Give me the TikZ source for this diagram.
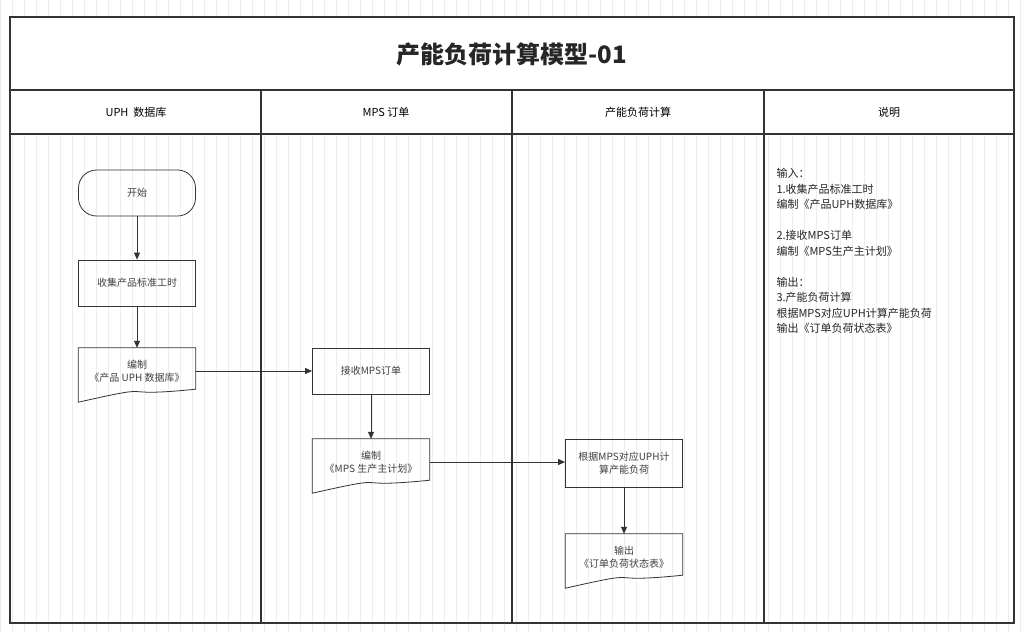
\documentclass[tikz,border=0pt]{standalone}
\usepackage{fontspec}
\setmainfont{Noto Sans CJK SC}
\newfontfamily\cjkb[FakeBold=0]{Noto Sans CJK SC Bold}
\usetikzlibrary{arrows.meta}
\newcommand{\docwave}[1]{%
  \draw[line] (#1.north west) -- (#1.north east) -- ([yshift=5]#1.south east)
    .. controls ([xshift=-30,yshift=-4]#1.south) and ([xshift=30,yshift=12]#1.south) ..
    ([yshift=-8]#1.south west) -- cycle;}
\begin{document}
\begin{tikzpicture}[x=1pt,y=-1pt,
  line/.style={draw=black!80,line width=0.8pt},
  box/.style={line,minimum width=117,minimum height=46,inner sep=0,align=center,font=\fontsize{10}{13}\selectfont,text=black!75},
  doc/.style={minimum width=117,minimum height=46,inner sep=0,align=center,font=\fontsize{10}{13}\selectfont,text=black!75},
  arr/.style={line,-{Triangle[length=7pt,width=6pt]}},
  hdr/.style={font=\fontsize{11}{13}\selectfont}]
\useasboundingbox (0,0) rectangle (1024,633);
\fill[white] (0,0) rectangle (1024,633);
\draw[black!7,line width=0.4pt] (0,0) grid[step=12] (1024,633);
\fill[white] (10,17) rectangle (1014,134);
\draw[line,line width=1.2pt] (10,17) rectangle (1014,623);
\draw[line,line width=1.2pt] (10,90) -- (1014,90);
\draw[line,line width=1.2pt] (10,134) -- (1014,134);
\foreach \x in {261,512,764} \draw[line,line width=1.2pt] (\x,90) -- (\x,623);
\node[font=\fontsize{24}{28}\selectfont\bfseries,text=black!85] (title) at (512,54) {产能负荷计算模型-01};
\node[hdr] (h1) at (136,112) {UPH\ \ 数据库};
\node[hdr] (h2) at (386,112) {MPS 订单};
\node[hdr] (h3) at (638,112) {产能负荷计算};
\node[hdr] (h4) at (889,112) {说明};
\node[box,rounded corners=18] (start) at (137,193) {开始};
\node[box] (collect) at (137,283) {收集产品标准工时};
\node[doc] (d1) at (137,371) {编制\\《产品 UPH 数据库》};
\docwave{d1}
\node[box] (recv) at (371,371) {接收MPS订单};
\node[doc] (d2) at (371,462) {编制\\《MPS 生产主计划》};
\docwave{d2}
\node[box,minimum height=48] (calc) at (624,463) {根据MPS对应UPH计\\算产能负荷};
\node[doc] (d3) at (624,557) {输出\\《订单负荷状态表》};
\docwave{d3}
\draw[arr] (start) -- (collect);
\draw[arr] (collect) -- (d1);
\draw[arr] (d1.east) -- (recv.west);
\draw[arr] (recv) -- (d2);
\draw[arr] (d2.east) -- (calc.west|-d2.east);
\draw[arr] (calc) -- (d3);
\node[anchor=north west,align=left,font=\fontsize{11}{15.5}\selectfont,text=black!85] (notes) at (773,165)
{输入：\\1.收集产品标准工时\\编制《产品UPH数据库》\\[15.5pt]2.接收MPS订单\\编制《MPS生产主计划》\\[15.5pt]输出：\\3.产能负荷计算\\根据MPS对应UPH计算产能负荷\\输出《订单负荷状态表》};
\end{tikzpicture}
\end{document}
